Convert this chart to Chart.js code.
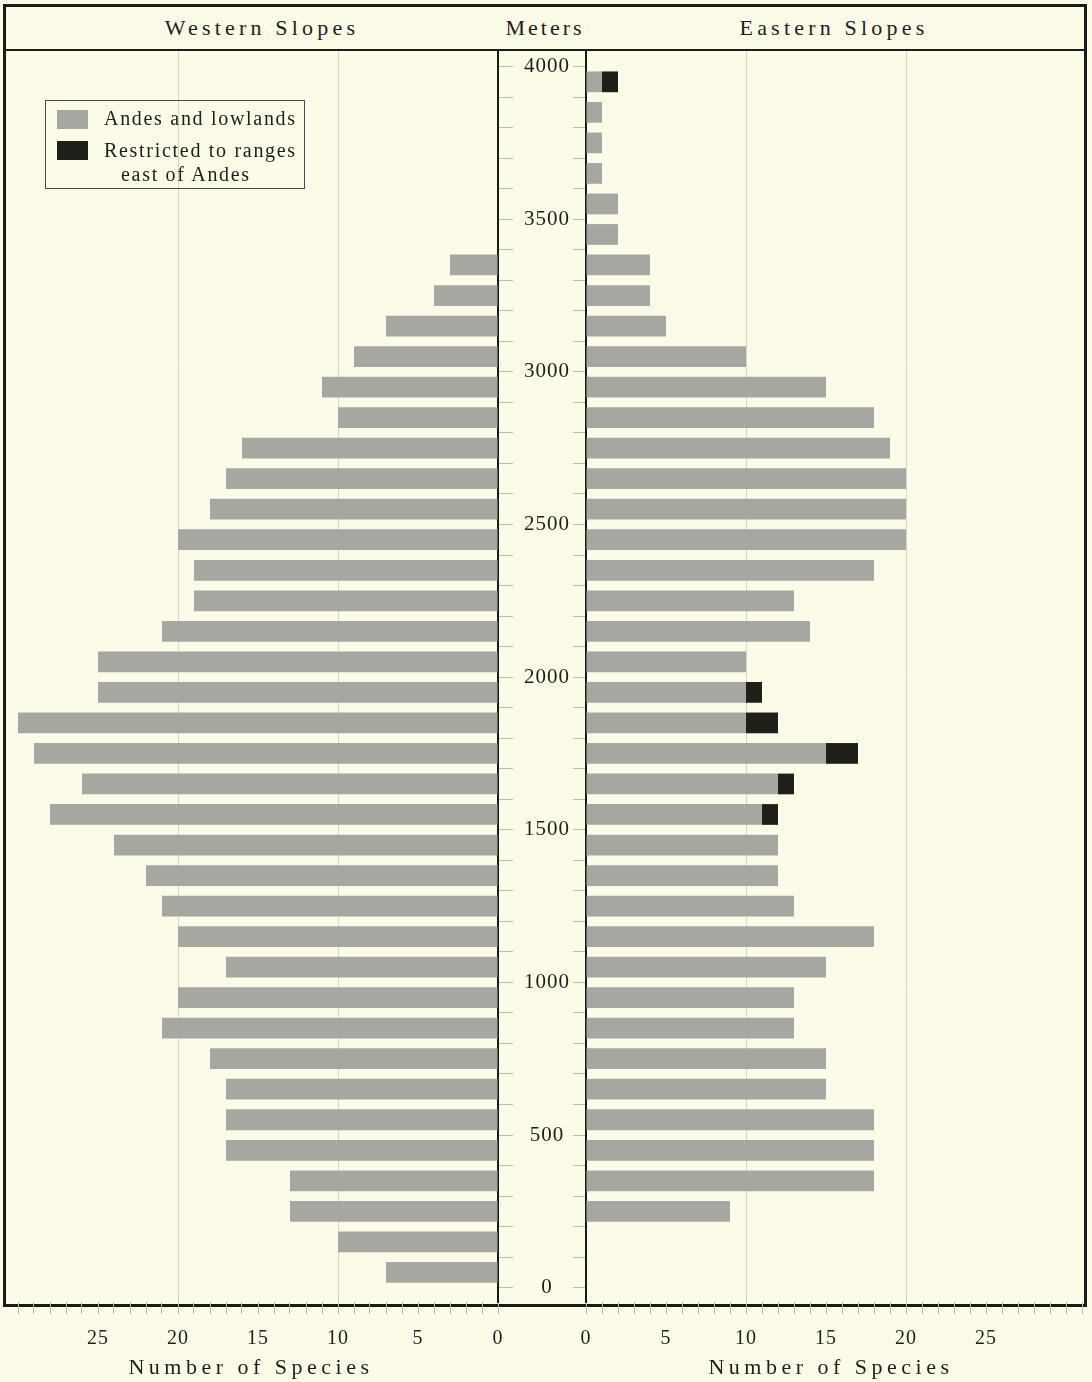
<!DOCTYPE html>
<html>
<head>
<meta charset="utf-8">
<script src="https://cdn.jsdelivr.net/npm/chart.js@4/dist/chart.umd.min.js"></script>
<style>
  body { margin: 0; background: #fcfbe8; }
  #page { position: relative; width: 1092px; height: 1382px; background: #fcfbe8; font-family: "Liberation Serif", serif; color: #1e1e1e; }
  .frame { position: absolute; left: 3px; top: 4px; width: 1084px; height: 1303px; box-sizing: border-box; border: 3px solid #1b1b1b; }
  .rule { position: absolute; left: 6px; top: 49px; width: 1078px; height: 2px; background: #1b1b1b; }
  .head { position: absolute; top: 14px; height: 28px; line-height: 28px; font-size: 22px; letter-spacing: 4.2px; text-align: center; }
  .axis-title { position: absolute; top: 1353px; height: 28px; line-height: 28px; font-size: 22px; letter-spacing: 4.5px; text-align: center; }
  canvas { position: absolute; }
  .legend { position: absolute; left: 45px; top: 100px; width: 260px; height: 89px; box-sizing: border-box; border: 1px solid #4a4a4a; font-size: 20px; letter-spacing: 1.7px; }
  .legend .sw { position: absolute; left: 11px; width: 31px; height: 19px; }
  .legend .tx { position: absolute; white-space: nowrap; line-height: 24px; }
</style>
</head>
<body>
<div id="page">
  <div class="frame"></div>
  <div class="rule"></div>
  <div class="head" style="left:62px;width:400px">Western Slopes</div>
  <div class="head" style="left:495px;width:100px;letter-spacing:3px">Meters</div>
  <div class="head" style="left:634px;width:400px">Eastern Slopes</div>

  <canvas id="westChart" width="508" height="1331" style="left:6px;top:51px"></canvas>
  <canvas id="eastChart" width="585" height="1331" style="left:499px;top:51px"></canvas>

  <div class="legend">
    <span class="sw" style="top:9px;background:#a7a7a2"></span>
    <span class="tx" style="left:58px;top:5px">Andes and lowlands</span>
    <span class="sw" style="top:40px;background:#201f1a"></span>
    <span class="tx" style="left:58px;top:37px">Restricted to ranges</span>
    <span class="tx" style="left:75px;top:61px">east of Andes</span>
  </div>

  <div class="axis-title" style="left:51px;width:400px">Number of Species</div>
  <div class="axis-title" style="left:631px;width:400px">Number of Species</div>
</div>

<script>
// elevation bands (centre of each 100 m band)
const meters = [
  50, 150, 250, 350, 450, 550, 650, 750, 850, 950,
  1050, 1150, 1250, 1350, 1450, 1550, 1650, 1750, 1850, 1950,
  2050, 2150, 2250, 2350, 2450, 2550, 2650, 2750, 2850, 2950,
  3050, 3150, 3250, 3350, 3450, 3550, 3650, 3750, 3850, 3950,
];
// western slopes, species count per band
const westAndes = [
  7, 10, 13, 13, 17, 17, 17, 18, 21, 20,
  17, 20, 21, 22, 24, 28, 26, 29, 30, 25,
  25, 21, 19, 19, 20, 18, 17, 16, 10, 11,
  9, 7, 4, 3, 0, 0, 0, 0, 0, 0,
];
// eastern slopes, species shared with Andes and lowlands
const eastAndes = [
  0, 0, 9, 18, 18, 18, 15, 15, 13, 13,
  15, 18, 13, 12, 12, 11, 12, 15, 10, 10,
  10, 14, 13, 18, 20, 20, 20, 19, 18, 15,
  10, 5, 4, 4, 2, 2, 1, 1, 1, 1,
];
// eastern slopes, species restricted to ranges east of Andes
const eastRestricted = [
  0, 0, 0, 0, 0, 0, 0, 0, 0, 0,
  0, 0, 0, 0, 0, 1, 1, 2, 2, 1,
  0, 0, 0, 0, 0, 0, 0, 0, 0, 0,
  0, 0, 0, 0, 0, 0, 0, 0, 0, 1,
];
const speciesTicks = [0, 5, 10, 15, 20, 25];
const meterTicks = [0, 500, 1000, 1500, 2000, 2500, 3000, 3500, 4000];

const GRAY = "#a7a7a2";
const DARK = "#201f1a";
const INK = "#1e1e1e";
const TICK = "#bdbcb2";
const GRID = "#d6d5c8";

Chart.defaults.font.family = "'Liberation Serif', serif";
Chart.defaults.color = INK;

const toPoints = (values) => values.map((v, i) => ({ x: v, y: meters[i] }));

// keep the plot area fixed: no extra room for overhanging labels
function fixSize(prop, size) {
  return (s) => {
    s[prop] = size;
    s.paddingLeft = s.paddingRight = s.paddingTop = s.paddingBottom = 0;
  };
}

// a tick on every whole step between lo and hi
function everyStep(lo, hi, step) {
  return (s) => {
    const ticks = [];
    for (let v = lo; v <= hi; v += step) ticks.push({ value: v });
    s.ticks = ticks;
  };
}

const spacedText = {
  id: "spacedText",
  beforeDraw(chart) {
    chart.ctx.letterSpacing = "1px";
  },
};

function speciesAxis(reverse, max) {
  return {
    type: "linear",
    reverse: reverse,
    bounds: "data",
    offset: false,
    min: 0,
    max: max,
    stacked: true,
    afterBuildTicks: everyStep(0, Math.floor(max), 1),
    afterFit: fixSize("height", 80),
    border: { display: false },
    grid: {
      offset: false,
      color: (ctx) => (ctx.tick && (ctx.tick.value === 10 || ctx.tick.value === 20) ? GRID : "transparent"),
      tickColor: TICK,
      tickLength: 12,
    },
    ticks: {
      autoSkip: false,
      maxRotation: 0,
      padding: 13,
      font: { size: 20 },
      callback: (v) => (speciesTicks.includes(v) ? String(v) : ""),
    },
  };
}

function meterAxis(position, width, showLabels) {
  return {
    type: "linear",
    position: position,
    bounds: "data",
    offset: false,
    min: -47,
    max: 4051,
    stacked: true,
    afterBuildTicks: everyStep(0, 4000, 100),
    afterFit: fixSize("width", width),
    border: { display: true, color: "#1b1b1b", width: 2 },
    grid: { offset: false, drawOnChartArea: false, color: TICK, tickLength: showLabels ? 13 : 15 },
    ticks: {
      display: showLabels,
      autoSkip: false,
      crossAlign: "center",
      padding: 5,
      font: { size: 21 },
      callback: (v) => (meterTicks.includes(v) ? String(v) : ""),
    },
  };
}

const barStyle = {
  barPercentage: 0.68,
  categoryPercentage: 1,
  borderWidth: 0,
};

new Chart(document.getElementById("westChart"), {
  type: "bar",
  data: {
    datasets: [
      { label: "Andes and lowlands", data: toPoints(westAndes), backgroundColor: GRAY, ...barStyle },
    ],
  },
  options: {
    indexAxis: "y",
    responsive: false,
    animation: false,
    layout: { padding: 0 },
    plugins: { legend: { display: false }, tooltip: { enabled: false } },
    scales: {
      x: speciesAxis(true, 492 / 16),
      y: meterAxis("right", 16, false),
    },
  },
  plugins: [spacedText],
});

new Chart(document.getElementById("eastChart"), {
  type: "bar",
  data: {
    datasets: [
      { label: "Andes and lowlands", data: toPoints(eastAndes), backgroundColor: GRAY, ...barStyle },
      { label: "Restricted to ranges east of Andes", data: toPoints(eastRestricted), backgroundColor: DARK, ...barStyle },
    ],
  },
  options: {
    indexAxis: "y",
    responsive: false,
    animation: false,
    layout: { padding: 0 },
    plugins: { legend: { display: false }, tooltip: { enabled: false } },
    scales: {
      x: speciesAxis(false, 498 / 16),
      y: meterAxis("left", 87, true),
    },
  },
  plugins: [spacedText],
});
</script>
</body>
</html>
